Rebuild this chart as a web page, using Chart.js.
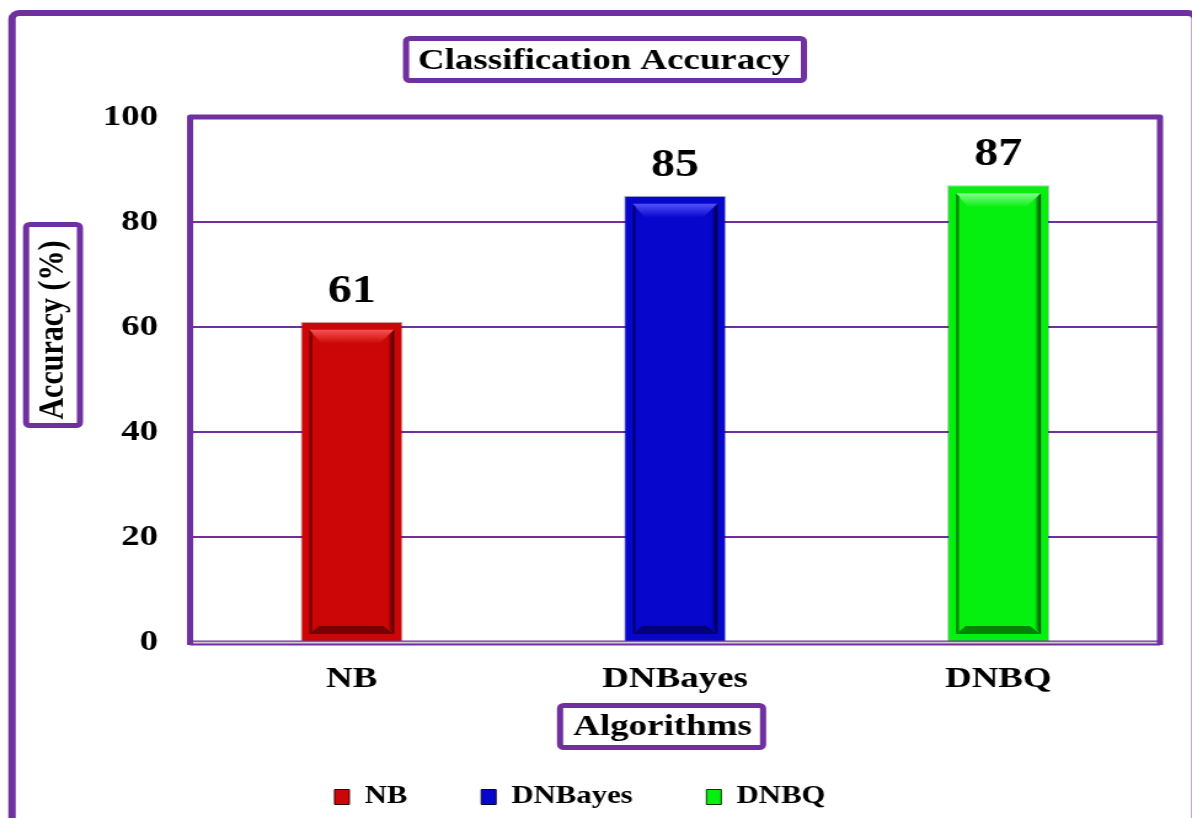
<!DOCTYPE html>
<html>
<head>
<meta charset="utf-8">
<script src="https://cdn.jsdelivr.net/npm/chart.js@4.4.1/dist/chart.umd.min.js"></script>
<style>
  html, body { margin: 0; padding: 0; background: #fff; overflow: hidden; }
</style>
</head>
<body>
<!-- the drawing surface is rendered narrower and widened by CSS, giving the wide lettering -->
<canvas id="c" width="969" height="818" style="display:block;width:1192px;height:818px"></canvas>
<script>
// ---- data ----
const categories = ['NB', 'DNBayes', 'DNBQ'];
const accuracy = [61, 85, 87];
const yTicks = [0, 20, 40, 60, 80, 100];
const chartTitle = 'Classification Accuracy';
const yTitle = 'Accuracy (%)';
const xTitle = 'Algorithms';

// ---- styles ----
const PURPLE = '#7030A0';
const SERIF = '"Liberation Serif", "Times New Roman", serif';
const faceColors = ['#CC0606', '#0606CC', '#06F010'];
const lightColors = ['#F75252', '#5252FA', '#80FF88'];
const darkColors = ['#3A0000', '#00003A', '#003A00'];

function poly(ctx, pts, fill, alpha) {
  ctx.save();
  if (alpha !== undefined) ctx.globalAlpha = alpha;
  ctx.beginPath();
  ctx.moveTo(pts[0][0], pts[0][1]);
  for (let k = 1; k < pts.length; k++) ctx.lineTo(pts[k][0], pts[k][1]);
  ctx.closePath();
  ctx.fillStyle = fill;
  ctx.fill();
  ctx.restore();
}

function boxedLabel(ctx, text, box, cx, cy, rotate) {
  ctx.save();
  ctx.strokeStyle = PURPLE;
  ctx.lineWidth = 5;
  ctx.lineJoin = 'round';
  ctx.beginPath();
  ctx.roundRect(box[0], box[1], box[2], box[3], 3);
  ctx.stroke();
  ctx.fillStyle = '#000';
  ctx.font = 'bold 30px ' + SERIF;
  ctx.textAlign = 'center';
  ctx.textBaseline = 'middle';
  ctx.translate(cx, cy);
  if (rotate) ctx.rotate(-Math.PI / 2);
  ctx.fillText(text, 0, 0);
  ctx.restore();
}

// outer frame, boxed titles, bar bevels, value labels, plot frame
const framePlugin = {
  id: 'frames',
  beforeDraw(chart) {
    const ctx = chart.ctx;
    const W = chart.width, H = chart.height;
    ctx.save();
    ctx.fillStyle = '#fff';
    ctx.fillRect(0, 0, W, H);
    ctx.strokeStyle = PURPLE;
    ctx.lineWidth = 6;
    ctx.beginPath();
    ctx.roundRect(9.75, 13, W + 2.6 - 9.75, H + 20, 6);
    ctx.stroke();
    ctx.restore();
    boxedLabel(ctx, chartTitle, [330.1, 38.5, 323.4, 42], 491, 61, false);
    boxedLabel(ctx, yTitle, [21.2, 224.5, 43.8, 201], 43.1, 330, true);
    boxedLabel(ctx, xTitle, [455.3, 705.5, 165, 42], 538.6, 727, false);
  },
  afterDatasetsDraw(chart) {
    const ctx = chart.ctx;
    const ca = chart.chartArea;
    const meta = chart.getDatasetMeta(0);
    meta.data.forEach((bar, i) => {
      const p = bar.getProps(['x', 'y', 'base', 'width'], true);
      const L = p.x - p.width / 2, R = p.x + p.width / 2;
      const T = Math.min(p.y, p.base), B = Math.max(p.y, p.base);
      const oL = L + 7, oR = R - 7, oT = T + 8, oB = B - 7;
      let g = ctx.createLinearGradient(0, oT, 0, oT + 14);
      g.addColorStop(0, lightColors[i]);
      g.addColorStop(1, faceColors[i]);
      poly(ctx, [[oL, oT], [oR, oT], [oR - 12, oT + 14], [oL + 10, oT + 14]], g);
      poly(ctx, [[oL, oT], [oL + 2.5, oT + 3], [oL + 2.5, oB - 3], [oL, oB]], darkColors[i], 0.55);
      g = ctx.createLinearGradient(oR - 5, 0, oR, 0);
      g.addColorStop(0, faceColors[i]);
      g.addColorStop(1, darkColors[i]);
      poly(ctx, [[oR, oT], [oR, oB], [oR - 5, oB - 6], [oR - 5, oT + 6]], g);
      poly(ctx, [[oL, oB], [oR, oB], [oR - 9, oB - 8], [oL + 8, oB - 8]], darkColors[i], 0.6);

      ctx.save();
      ctx.fillStyle = '#000';
      ctx.font = 'bold 39px ' + SERIF;
      ctx.textAlign = 'center';
      ctx.textBaseline = 'alphabetic';
      ctx.fillText(String(chart.data.datasets[0].data[i]), p.x, T - 20);
      ctx.restore();
    });

    ctx.save();
    ctx.fillStyle = '#cfcfcf';
    ctx.fillRect(ca.left, ca.bottom - 0.5, ca.right - ca.left, 2.5);
    ctx.strokeStyle = PURPLE;
    ctx.lineWidth = 1.2;
    ctx.beginPath();
    ctx.moveTo(ca.left, ca.bottom - 1);
    ctx.lineTo(ca.right, ca.bottom - 1);
    ctx.stroke();
    ctx.lineWidth = 2;
    ctx.beginPath();
    ctx.moveTo(ca.left, ca.bottom + 2.5);
    ctx.lineTo(ca.right, ca.bottom + 2.5);
    ctx.stroke();
    ctx.lineWidth = 5;
    ctx.lineJoin = 'round';
    ctx.beginPath();
    ctx.moveTo(ca.left, ca.bottom + 3);
    ctx.lineTo(ca.left, ca.top);
    ctx.lineTo(ca.right, ca.top);
    ctx.lineTo(ca.right, ca.bottom + 3);
    ctx.stroke();
    ctx.restore();
  }
};

const tickFont = { family: SERIF, size: 30, weight: 'bold' };

new Chart(document.getElementById('c'), {
  type: 'bar',
  data: {
    labels: categories,
    datasets: [{
      label: 'Accuracy',
      data: accuracy,
      backgroundColor: faceColors,
      borderColor: 'rgba(0,0,0,0.25)',
      borderWidth: 1,
      barPercentage: 0.316,
      categoryPercentage: 1
    }]
  },
  options: {
    responsive: false,
    animation: false,
    devicePixelRatio: 1,
    layout: { padding: { top: 117, left: 0, right: 26, bottom: -1.5 } },
    plugins: {
      title: { display: false },
      tooltip: { enabled: false },
      legend: {
        position: 'bottom',
        onClick: null,
        labels: {
          color: '#000',
          font: { family: SERIF, size: 25, weight: 'bold' },
          boxWidth: 12,
          boxHeight: 15,
          padding: 60,
          generateLabels: (chart) => chart.data.labels.map((text, i) => ({
            text,
            fillStyle: faceColors[i],
            strokeStyle: darkColors[i],
            lineWidth: 1,
            hidden: false,
            index: i,
            datasetIndex: 0,
            fontColor: '#000'
          }))
        }
      }
    },
    scales: {
      x: {
        grid: { display: false, drawTicks: false },
        border: { display: false },
        ticks: { color: '#000', font: tickFont, padding: 19 },
        afterFit: (s) => { s.height = 82.5; }
      },
      y: {
        min: yTicks[0],
        max: yTicks[yTicks.length - 1],
        grid: { color: PURPLE, lineWidth: 2, drawTicks: false },
        border: { display: false },
        ticks: { stepSize: yTicks[1] - yTicks[0], color: '#000', font: tickFont, padding: 26 },
        afterFit: (s) => { s.width = 154.5; }
      }
    }
  },
  plugins: [framePlugin]
});
</script>
</body>
</html>
